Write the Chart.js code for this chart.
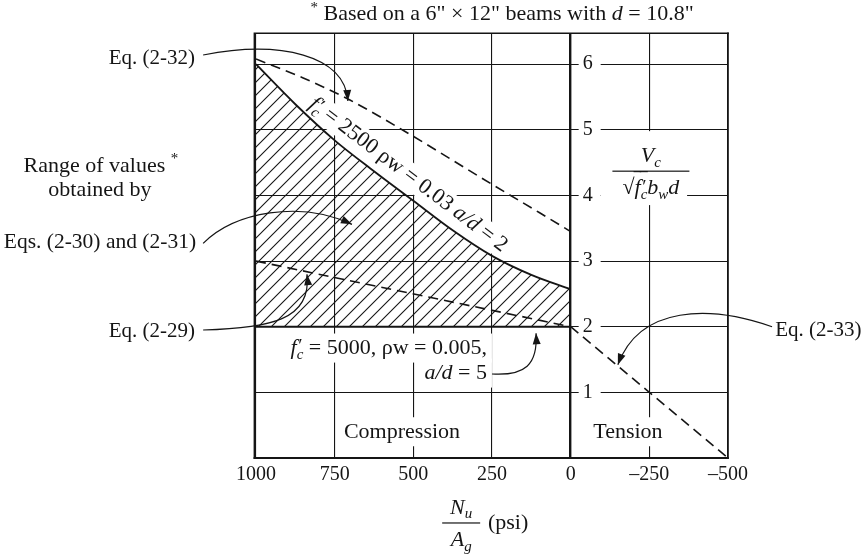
<!DOCTYPE html>
<html><head><meta charset="utf-8">
<script src="https://cdn.jsdelivr.net/npm/chart.js@4.4.1/dist/chart.umd.min.js"></script>
<style>html,body{margin:0;padding:0;background:#fff;}canvas{display:block;}</style>
</head><body>
<canvas id="c" width="866" height="554"></canvas>
<script>
// ---------------- data ----------------
const xTicks = [1000, 750, 500, 250, 0, -250, -500];   // Nu/Ag (psi)
const yTicks = [0, 1, 2, 3, 4, 5, 6];                   // Vc / (sqrt(f'c) bw d)
// upper bound of hatched range (f'c = 2500, ρw = 0.03, a/d = 2)
const rangeTopN = [1000, 875, 750, 625, 500, 375, 250, 125, 0];
const rangeTopV = [6.0, 5.39, 4.84, 4.37, 3.92, 3.47, 3.08, 2.79, 2.57];
// lower bound of hatched range (f'c = 5000, ρw = 0.005, a/d = 5)
const rangeBotN = [1000, 0];
const rangeBotV = [2.0, 2.0];
// Eq. (2-32)
const eq32N = [1000, 850, 700, 500, 380, 250, 100, 0];
const eq32V = [6.08, 5.79, 5.45, 4.90, 4.55, 4.17, 3.74, 3.45];
// Eq. (2-29)
const eq29N = [1000, 0];
const eq29V = [3.0, 2.0];
// Eq. (2-33)
const eq33N = [0, -250, -500];
const eq33V = [2.0, 1.0, 0.0];

// ---------------- styling helpers ----------------
const INK = '#151515';
const SERIF = '"Liberation Serif","Times New Roman","DejaVu Serif",serif';
const FS = 22;
const I = (t, o) => Object.assign({t: t, it: true}, o || {});
const R = (t, o) => Object.assign({t: t}, o || {});
const PRIME = () => R('\u2032', {pr: true, noAdv: true, dx: 1.5});
const FC = () => [I('f'), PRIME(), I('c', {sub: true})];

function fnt(size, it) { return (it ? 'italic ' : '') + size + 'px ' + SERIF; }
function segSize(s, size) { return (s.sub || s.sup) ? size * 0.68 : s.pr ? size * 0.9 : size; }
function segAdv(ctx, s, size) {
  ctx.font = fnt(segSize(s, size), s.it);
  return s.noAdv ? 0 : ctx.measureText(s.t).width;
}
function richWidth(ctx, segs, size) { return segs.reduce((w, s) => w + segAdv(ctx, s, size), 0); }
function drawRich(ctx, segs, x, y, size, align) {
  const w = richWidth(ctx, segs, size);
  let cx = align === 'center' ? x - w / 2 : align === 'right' ? x - w : x;
  ctx.textBaseline = 'middle'; ctx.textAlign = 'left';
  for (const s of segs) {
    const sz = segSize(s, size);
    ctx.font = fnt(sz, s.it);
    const dy = s.sub ? size * 0.30 : s.sup ? -size * 0.30 : s.pr ? -size * 0.04 : 0;
    ctx.fillText(s.t, cx + (s.dx || 0), y + dy);
    const adv = segAdv(ctx, s, size);
    if (s.ov) ctx.fillRect(cx - 1, y - size * 0.78, adv + 1.5, 1.1);
    cx += adv;
  }
  return w;
}

// ---------------- annotations (positions in data units) ----------------
const labels = [
  {n: 218, v: 6.76, a: 'center', s: [R('*', {sup: true}), R(' Based on a 6" \u00d7 12" beams with '), I('d'), R(' = 10.8"')]},
  {n: 1194, v: 6.08, a: 'right', size: 21, s: [R('Eq. (2-32)')]},
  {n: 1493, v: 4.45, a: 'center', s: [R('Range of values '), R('*', {sup: true})]},
  {n: 1496, v: 4.08, a: 'center', s: [R('obtained by')]},
  {n: 1496, v: 3.29, a: 'center', size: 21.5, s: [R('Eqs. (2-30) and (2-31)')]},
  {n: 1194, v: 1.93, a: 'right', size: 21, s: [R('Eq. (2-29)')]},
  {n: -650, v: 1.95, a: 'left', size: 21, s: [R('Eq. (2-33)')]},
  {n: 266, v: 1.675, a: 'right', box: true, s: FC().concat([R(' = 5000, \u03c1w = 0.005,')])},
  {n: 266, v: 1.294, a: 'right', box: true, s: [I('a'), I('/'), I('d'), R(' = 5')]},
  {n: 536, v: 0.40, a: 'center', box: true, s: [R('Compression')]},
  {n: -182, v: 0.40, a: 'center', box: true, s: [R('Tension')]}
];
const curveLabel = {n: 516, v: 4.313, deg: 37,
  s: FC().concat([R(' = 2500 \u03c1w = 0.03 '), I('a'), I('/'), I('d'), R(' = 2')])};
const vcFrac = {n: -255, vNum: 4.60, vBar: 4.37, vDen: 4.11, box: [-96, -370, 4.98, 3.853]};
const xTitle = {n: 348, vNum: -0.76, vBar: -0.99, vDen: -1.25, psiN: 263};
const arrows = [
  [[1168, 6.14], [924, 6.37], [717, 6.14], [708, 5.44]],
  [[1168, 3.27], [1067, 3.75], [860, 3.93], [695, 3.56]],
  [[1168, 1.95], [956, 1.98], [822, 2.10], [838, 2.80]],
  [[250, 1.28], [145, 1.25], [104, 1.42], [110, 1.90]],
  [[-640, 2.0], [-443, 2.33], [-220, 2.33], [-150, 1.42]]
];

// ---------------- hatch pattern ----------------
const canvas = document.getElementById('c');
const ctx0 = canvas.getContext('2d');
function hatch() {
  const s = 13, c = document.createElement('canvas');
  c.width = s; c.height = s;
  const g = c.getContext('2d');
  g.strokeStyle = INK; g.lineWidth = 1.1;
  g.beginPath();
  g.moveTo(0, s); g.lineTo(s, 0);
  g.moveTo(-3, 3); g.lineTo(3, -3);
  g.moveTo(s - 3, s + 3); g.lineTo(s + 3, s - 3);
  g.stroke();
  return ctx0.createPattern(c, 'repeat');
}

const pts = (N, V) => N.map((n, i) => ({x: n, y: V[i]}));
const lineBase = {pointRadius: 0, borderColor: INK, fill: false};

// ---------------- plugin for text, frame and arrows ----------------
const deco = {
  id: 'deco',
  beforeDatasetsDraw(chart) {
    const {ctx, scales} = chart;
    const X = n => scales.x.getPixelForValue(n), Y = v => scales.y.getPixelForValue(v);
    ctx.save();
    // y tick labels sitting on the zero line
    const x0 = X(0);
    scales.y.ticks.forEach(t => {
      if (t.value < 1) return;
      const py = Y(t.value);
      ctx.fillStyle = '#fff'; ctx.fillRect(x0 + 8, py - 11, 22, 22);
      ctx.fillStyle = INK; drawRich(ctx, [R(String(t.value))], x0 + 17, py, 20, 'center');
    });
    // Vc fraction (right axis title)
    const b = vcFrac.box;
    ctx.fillStyle = '#fff';
    ctx.fillRect(X(b[0]), Y(b[2]), X(b[1]) - X(b[0]), Y(b[3]) - Y(b[2]));
    ctx.fillStyle = INK;
    const fx = X(vcFrac.n);
    drawRich(ctx, [I('V'), I('c', {sub: true})], fx, Y(vcFrac.vNum), FS, 'center');
    ctx.fillRect(fx - 38.5, Y(vcFrac.vBar) - 0.6, 77, 1.2);
    drawRich(ctx, [R('\u221a'), I('f', {ov: true}), PRIME(), I('c', {sub: true, ov: true}),
      I('b'), I('w', {sub: true}), I('d')], fx, Y(vcFrac.vDen), FS, 'center');
    // labels
    labels.forEach(L => {
      const size = L.size || FS;
      const px = X(L.n), py = Y(L.v);
      const w = richWidth(ctx, L.s, size);
      if (L.box) {
        const lx = L.a === 'center' ? px - w / 2 : L.a === 'right' ? px - w : px;
        ctx.fillStyle = '#fff';
        ctx.fillRect(lx - 5, py - size * 0.66, w + 10, size * 1.32);
      }
      ctx.fillStyle = INK;
      drawRich(ctx, L.s, px, py, size, L.a);
    });
    // rotated curve label
    ctx.save();
    ctx.translate(X(curveLabel.n), Y(curveLabel.v));
    ctx.rotate(curveLabel.deg * Math.PI / 180);
    const cw = richWidth(ctx, curveLabel.s, FS);
    ctx.fillStyle = '#fff'; ctx.fillRect(-cw / 2 - 5, -FS * 0.58, cw + 10, FS * 1.16);
    ctx.fillStyle = INK; drawRich(ctx, curveLabel.s, 0, 0, FS, 'center');
    ctx.restore();
    // x-axis title
    const tx = X(xTitle.n);
    drawRich(ctx, [I('N'), I('u', {sub: true})], tx, Y(xTitle.vNum), FS, 'center');
    ctx.fillRect(tx - 19, Y(xTitle.vBar) - 0.6, 38, 1.2);
    drawRich(ctx, [I('A'), I('g', {sub: true})], tx, Y(xTitle.vDen), FS, 'center');
    drawRich(ctx, [R('(psi)')], X(xTitle.psiN), Y(xTitle.vBar), FS, 'left');
    ctx.restore();
  },
  afterDatasetsDraw(chart) {
    const {ctx, chartArea: a, scales} = chart;
    const X = n => scales.x.getPixelForValue(n), Y = v => scales.y.getPixelForValue(v);
    ctx.save();
    ctx.strokeStyle = INK; ctx.fillStyle = INK;
    // frame
    const seg = (x1, y1, x2, y2, w) => { ctx.lineWidth = w; ctx.beginPath(); ctx.moveTo(x1, y1); ctx.lineTo(x2, y2); ctx.stroke(); };
    seg(a.left, a.top - 0.8, a.right + 0.8, a.top - 0.8, 1.6);
    seg(a.right, a.top - 1.5, a.right, a.bottom + 1, 1.6);
    seg(a.left - 1.2, a.top - 1.5, a.left - 1.2, a.bottom + 1, 2.4);
    seg(a.left - 2.4, a.bottom, a.right + 0.8, a.bottom, 2.2);
    // arrows
    ctx.lineWidth = 1.2;
    arrows.forEach(p => {
      const q = p.map(([n, v]) => [X(n), Y(v)]);
      ctx.beginPath();
      ctx.moveTo(q[0][0], q[0][1]);
      ctx.bezierCurveTo(q[1][0], q[1][1], q[2][0], q[2][1], q[3][0], q[3][1]);
      ctx.stroke();
      const dx = q[3][0] - q[2][0], dy = q[3][1] - q[2][1], L = Math.hypot(dx, dy);
      const ux = dx / L, uy = dy / L, len = 11, hw = 4;
      const bx = q[3][0] - ux * len, by = q[3][1] - uy * len;
      ctx.beginPath();
      ctx.moveTo(q[3][0], q[3][1]);
      ctx.lineTo(bx - uy * hw, by + ux * hw);
      ctx.lineTo(bx + uy * hw, by - ux * hw);
      ctx.closePath(); ctx.fill();
    });
    ctx.restore();
  }
};

new Chart(canvas, {
  type: 'line',
  data: {
    datasets: [
      Object.assign({}, lineBase, {data: pts(rangeTopN, rangeTopV), borderWidth: 1.8, cubicInterpolationMode: 'monotone',
        fill: {value: 2}, backgroundColor: hatch()}),
      Object.assign({}, lineBase, {data: pts(rangeBotN, rangeBotV), borderWidth: 2.2}),
      Object.assign({}, lineBase, {data: pts(eq32N, eq32V), borderWidth: 1.6, borderDash: [10, 6], cubicInterpolationMode: 'monotone'}),
      Object.assign({}, lineBase, {data: pts(eq29N, eq29V), borderWidth: 1.6, borderDash: [10, 6]}),
      Object.assign({}, lineBase, {data: pts(eq33N, eq33V), borderWidth: 1.6, borderDash: [10, 6]})
    ]
  },
  options: {
    responsive: false,
    devicePixelRatio: 1,
    animation: false,
    events: [],
    layout: {padding: {left: 256, right: 138, top: 34, bottom: 62}, autoPadding: false},
    plugins: {legend: {display: false}, tooltip: {enabled: false}, title: {display: false}},
    scales: {
      x: {
        type: 'linear', reverse: true, min: -500, max: 1000,
        afterBuildTicks: s => { s.ticks = xTicks.map(v => ({value: v})); },
        grid: {color: INK, lineWidth: c => (c.tick && c.tick.value === 0) ? 2.4 : 1.1, drawTicks: false},
        border: {display: false},
        ticks: {color: INK, padding: 5, autoSkip: false, maxRotation: 0,
          font: {family: SERIF, size: 20},
          callback: v => v < 0 ? '\u2013' + (-v) : String(v)}
      },
      y: {
        type: 'linear', min: 0, max: 6.46,
        afterBuildTicks: s => { s.ticks = yTicks.map(v => ({value: v})); },
        grid: {color: INK, lineWidth: 1.1, drawTicks: false},
        border: {display: false},
        ticks: {display: false}
      }
    }
  },
  plugins: [deco]
});
</script>
</body></html>
